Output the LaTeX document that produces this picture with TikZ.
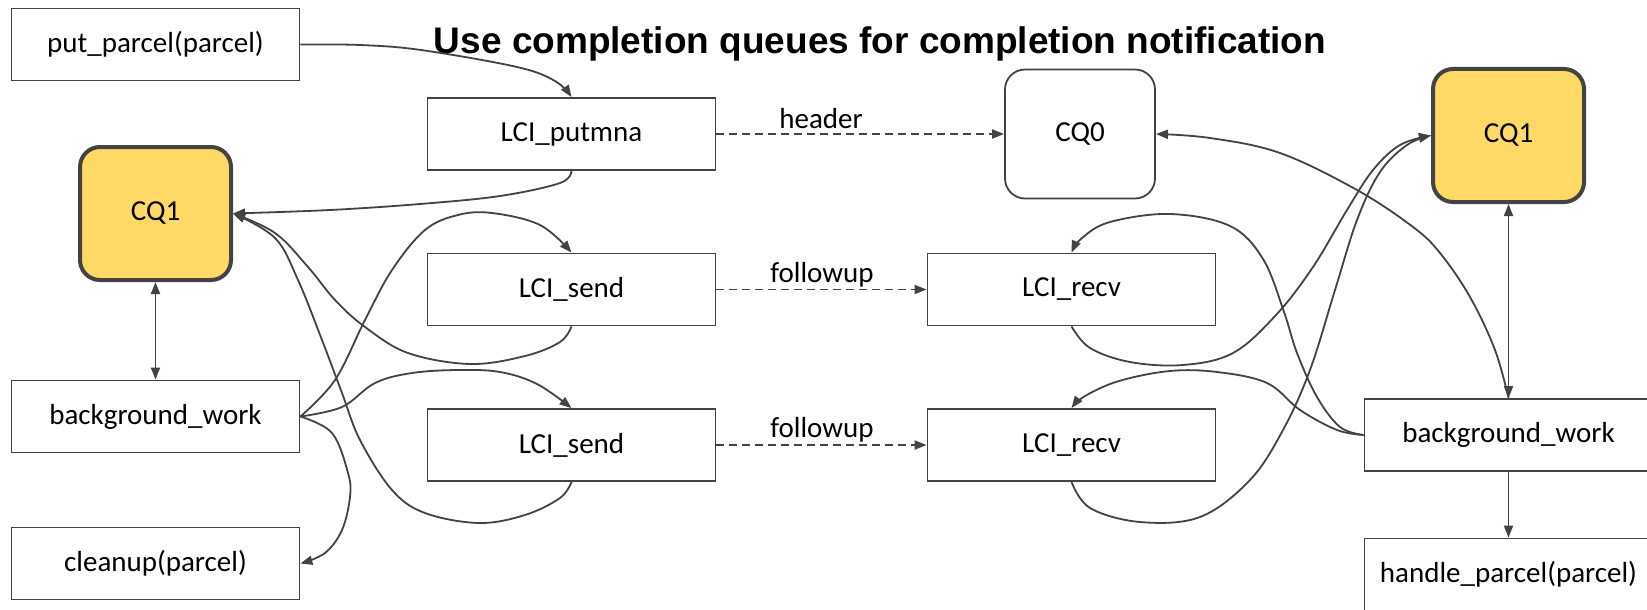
\documentclass[tikz,border=0pt]{standalone}
\usepackage{fontspec}
\setmainfont{Carlito}
\newfontfamily\titlefont{Liberation Sans}
\usetikzlibrary{arrows.meta}
\definecolor{edge}{HTML}{434343}
\definecolor{cqyellow}{HTML}{FFD966}
\tikzset{
  txt/.style={font=\fontsize{29}{34}\selectfont},
  box/.style={txt, draw=edge, line width=1.8pt, fill=white,
    minimum width=288pt, minimum height=72pt, inner sep=0pt},
  cq/.style={txt, draw=edge, rounded corners=20pt, inner sep=0pt},
  cqhot/.style={cq, fill=cqyellow, line width=4pt,
    minimum width=151pt, minimum height=133pt},
  cqplain/.style={cq, fill=white, line width=1.8pt,
    minimum width=150pt, minimum height=129pt},
  tip/.tip={Triangle[length=12pt,width=9pt]},
  link/.style={draw=edge, line width=1.8pt, -tip},
  twoway/.style={draw=edge, line width=1.8pt, tip-tip},
  msg/.style={link, dash pattern=on 8pt off 5pt},
  lbl/.style={txt, inner sep=0pt, anchor=base},
}
\begin{document}
\begin{tikzpicture}[x=1pt,y=-1pt]
  \fill[white] (0,0) rectangle (1647,610);
  \useasboundingbox (0,0) rectangle (1647,610);

  % title
  \node[anchor=base, font=\titlefont\bfseries\fontsize{37}{44}\selectfont]
    (title) at (880,53.3) {Use completion queues for completion notification};

  % sender side
  \node[box] (put)     at (155.5,44.5)  {put\_parcel(parcel)};
  \node[cqhot] (cqL)   at (155.5,213.5) {CQ1};
  \node[box] (bgL)     at (155.5,416.5) {background\_work};
  \node[box] (cleanup) at (155.5,563.5) {cleanup(parcel)};
  \node[box] (putmna)  at (571.5,134)   {LCI\_putmna};
  \node[box] (sendA)   at (571.5,289.5) {LCI\_send};
  \node[box] (sendB)   at (571.5,445)   {LCI\_send};

  % receiver side
  \node[cqplain] (cq0) at (1080,134)    {CQ0};
  \node[box] (recvA)   at (1071.5,289.5) {LCI\_recv};
  \node[box] (recvB)   at (1071.5,445)   {LCI\_recv};
  \node[cqhot] (cqR)   at (1508.5,135.5) {CQ1};
  \node[box] (bgR)     at (1508.5,435)   {background\_work};
  \node[box] (handle)  at (1508.5,574.5) {handle\_parcel(parcel)};

  % messages on the wire
  \draw[msg] (putmna.east) -- (cq0.west);
  \draw[msg] (sendA.east) -- (recvA.west);
  \draw[msg] (sendB.east) -- (recvB.west);
  \node[lbl] (hdr) at (821,128.5) {header};
  \node[lbl] (fuA) at (822,282)   {followup};
  \node[lbl] (fuB) at (822,437.5) {followup};

  % sender-side control flow
  \draw[link] plot[smooth, tension=0.6] coordinates
    {(put.east) (360,45) (421,50) (517,67) (555,81) (putmna.north)};
  \draw[link] plot[smooth, tension=0.6] coordinates
    {(putmna.south) (560,183) (500,196) (420,204) (330,210) (cqL.east)};
  \draw[link] plot[smooth, tension=0.6] coordinates
    {(sendA.south) (560,342) (525,356) (470,364) (408,353) (365,327)
     (335,300) (308,267) (275,233) (cqL.east)};
  \draw[link] plot[smooth, tension=0.6] coordinates
    {(sendB.south) (560,498) (525,515) (479,523) (425,513) (392,490)
     (360,440) (342,393) (322,340) (298,280) (275,238) (cqL.east)};
  \draw[link] plot[smooth, tension=0.6] coordinates
    {(bgL.east) (335,380) (365,320) (392,270) (425,230) (458,215)
     (492,213) (540,225) (sendA.north)};
  \draw[link] plot[smooth, tension=0.6] coordinates
    {(bgL.east) (342,407) (375,383) (412,373) (458,370) (500,372)
     (537,384) (sendB.north)};
  \draw[link] plot[smooth, tension=0.6] coordinates
    {(bgL.east) (332,433) (348,473) (350,497) (342,530) (325,553)
     (cleanup.east)};
  \draw[twoway] (cqL.south) -- (bgL.north);

  % receiver-side control flow
  \draw[twoway] (cqR.south) -- (bgR.north);
  \draw[link] (bgR.south) -- (handle.north);
  \draw[link] plot[smooth, tension=0.6] coordinates
    {(bgR.north) (1495,350) (1470,297) (1440,253) (1413,227) (1357,190)
     (1280,153) (1210,138) (cq0.east)};
  \draw[link] plot[smooth, tension=0.6] coordinates
    {(bgR.west) (1340,427) (1317,397) (1297,353) (1284,312) (1263,259)
     (1230,226) (1170,214) (1110,222) (1082,238) (recvA.north)};
  \draw[link] plot[smooth, tension=0.6] coordinates
    {(bgR.west) (1337,430) (1300,410) (1267,383) (1217,372) (1170,371)
     (1119,381) (1085,396) (recvB.north)};
  \draw[link] plot[smooth, tension=0.6] coordinates
    {(recvA.south) (1090,348) (1130,362) (1183,365) (1233,353)
     (1276,315) (1313,267) (1347,210) (1373,170) (1400,145) (cqR.west)};
  \draw[link] plot[smooth, tension=0.6] coordinates
    {(recvB.south) (1090,508) (1140,522) (1200,517) (1250,480)
     (1283,430) (1310,370) (1335,290) (1357,220) (1380,172) (1407,145)
     (cqR.west)};
\end{tikzpicture}
\end{document}
